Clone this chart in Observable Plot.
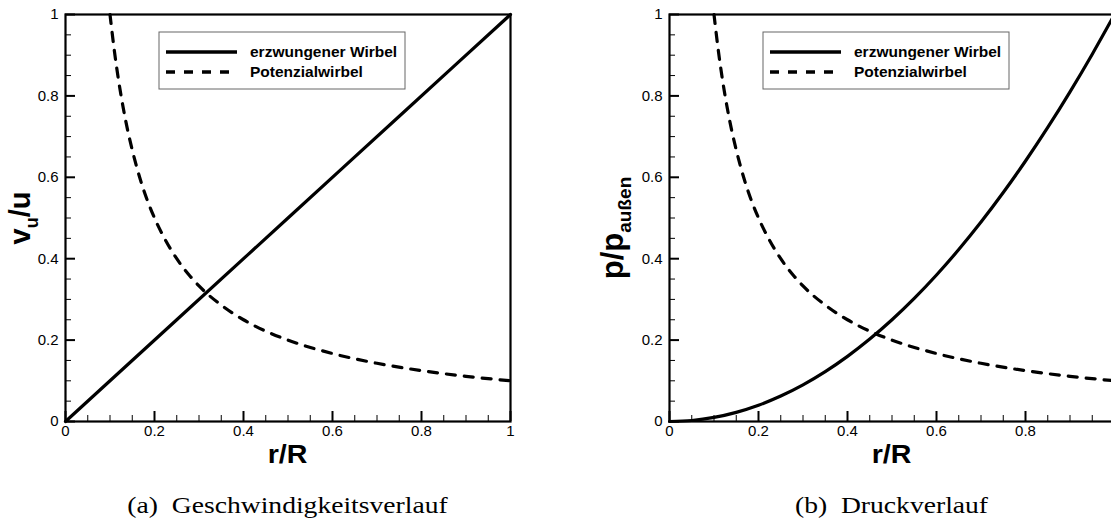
<!DOCTYPE html>
<html><head><meta charset="utf-8">
<script src="https://cdn.jsdelivr.net/npm/d3@7"></script>
<script src="https://cdn.jsdelivr.net/npm/@observablehq/plot@0.6"></script>
<style>
html,body{margin:0;padding:0;background:#fff;overflow:hidden;}
#root{position:relative;width:1111px;height:525px;overflow:hidden;background:#fff;}
.panel{position:absolute;top:0;}
</style></head><body><div id="root"></div>
<script>
// ---- data ----
const seriesNames = ["erzwungener Wirbel", "Potenzialwirbel"];
const xTicksA = [0, 0.2, 0.4, 0.6, 0.8, 1];
const xTicksB = [0, 0.2, 0.4, 0.6, 0.8];          // "1" lies outside the visible picture in (b)
const yTicks = [0, 0.2, 0.4, 0.6, 0.8, 1];
const majorTicks = [0, 0.2, 0.4, 0.6, 0.8, 1];
const minorTicks = [0.05, 0.1, 0.15, 0.25, 0.3, 0.35, 0.45, 0.5, 0.55, 0.65, 0.7, 0.75, 0.85, 0.9, 0.95];

// (a) Geschwindigkeitsverlauf
const forcedR = [0, 0.25, 0.5, 0.75, 1];
const forcedV = [0, 0.25, 0.5, 0.75, 1];
const potR = [0.1, 0.11, 0.12, 0.13, 0.14, 0.15, 0.17, 0.2, 0.22, 0.25, 0.28, 0.3, 0.35, 0.4, 0.45, 0.5, 0.6, 0.7, 0.8, 0.9, 1];
const potV = [1, 0.909, 0.833, 0.769, 0.714, 0.667, 0.588, 0.5, 0.455, 0.4, 0.357, 0.333, 0.286, 0.25, 0.222, 0.2, 0.167, 0.143, 0.125, 0.111, 0.1];

// (b) Druckverlauf
const forcedPR = [0, 0.05, 0.1, 0.15, 0.2, 0.25, 0.3, 0.35, 0.4, 0.45, 0.5, 0.55, 0.6, 0.65, 0.7, 0.75, 0.8, 0.85, 0.9, 0.95, 1];
const forcedP = [0, 0.0025, 0.01, 0.0225, 0.04, 0.0625, 0.09, 0.1225, 0.16, 0.2025, 0.25, 0.3025, 0.36, 0.4225, 0.49, 0.5625, 0.64, 0.7225, 0.81, 0.9025, 1];
const potPR = [0.1, 0.11, 0.12, 0.13, 0.14, 0.15, 0.17, 0.2, 0.22, 0.25, 0.28, 0.3, 0.35, 0.4, 0.45, 0.5, 0.6, 0.7, 0.8, 0.9, 1];
const potP = [1, 0.909, 0.833, 0.769, 0.714, 0.667, 0.588, 0.5, 0.455, 0.4, 0.357, 0.333, 0.286, 0.25, 0.222, 0.2, 0.167, 0.143, 0.125, 0.111, 0.1];

const captions = ["(a)  Geschwindigkeitsverlauf", "(b)  Druckverlauf"];

// ---- drawing ----
const SANS = "'Liberation Sans', Arial, Helvetica, sans-serif";
const SERIF = "'Liberation Serif', 'Times New Roman', serif";
const H = 525, MT = 14, MB = 104, PW = 445, PH = H - MT - MB;
const DASH = "9,9";

function rows(xs, ys, s) { return xs.map((x, i) => ({x, y: ys[i], s})); }

function txt(g, x, y, sx, attrs, str) {
  const t = g.append("text").attr("transform", `translate(${x},${y}) scale(${sx},1)`);
  for (const k in attrs) t.attr(k, attrs[k]);
  if (str != null) t.text(str);
  return t;
}

function panel({left, width, ml, solid, dashed, xTicks, yLabel, caption}) {
  const mr = width - ml - PW;
  const svg = Plot.plot({
    width, height: H, marginLeft: ml, marginRight: mr, marginTop: MT, marginBottom: MB,
    x: {domain: [0, 1]}, y: {domain: [0, 1]},
    style: {fontFamily: SANS, fontSize: "15px", color: "black", background: "transparent", overflow: "visible"},
    marks: [
      Plot.ruleX(minorTicks, {x: d => d, insetTop: PH - 6, stroke: "black", strokeWidth: 1}),
      Plot.ruleX(majorTicks, {x: d => d, insetTop: PH - 10, stroke: "black", strokeWidth: 2}),
      Plot.ruleY(minorTicks, {y: d => d, insetRight: PW - 6, stroke: "black", strokeWidth: 1}),
      Plot.ruleY(majorTicks, {y: d => d, insetRight: PW - 10, stroke: "black", strokeWidth: 2}),
      Plot.line(solid, {x: "x", y: "y", stroke: "black", strokeWidth: 3.2, curve: "monotone-x"}),
      Plot.line(dashed, {x: "x", y: "y", stroke: "black", strokeWidth: 3.2, strokeDasharray: DASH, curve: "monotone-x"}),
      Plot.frame({stroke: "black", strokeWidth: 2.2}),
      Plot.axisX(xTicks, {tickSize: 0, tickPadding: 4, tickFormat: d => String(d), label: null, fontSize: 15}),
      Plot.axisY(yTicks, {tickSize: 0, tickPadding: 7, tickFormat: d => String(d), label: null, fontSize: 15})
    ]
  });
  svg.classList.add("panel");
  svg.style.left = left + "px";
  const g = d3.select(svg).append("g").attr("text-anchor", "start");
  const cx = ml + PW / 2;
  // x label
  txt(g, cx, 463, 1.1, {"text-anchor": "middle", "font-family": SANS, "font-weight": "bold", "font-size": 26}, "r/R");
  // y label (rotated)
  const yl = g.append("text").attr("transform", `translate(${yLabel.x},${yLabel.cy}) rotate(-90)`)
    .attr("text-anchor", "middle").attr("font-family", SANS).attr("font-weight", "bold").attr("font-size", yLabel.fs);
  yl.append("tspan").text(yLabel.main);
  yl.append("tspan").attr("dy", yLabel.shift).attr("font-size", yLabel.subFs).text(yLabel.sub);
  if (yLabel.after) yl.append("tspan").attr("dy", -yLabel.shift).text(yLabel.after);
  // legend
  const lx = ml + 94, ly = 32;
  const lg = g.append("g");
  lg.append("rect").attr("x", lx).attr("y", ly).attr("width", 246).attr("height", 57)
    .attr("fill", "white").attr("stroke", "#666").attr("stroke-width", 1);
  lg.append("line").attr("x1", lx + 7).attr("x2", lx + 78).attr("y1", ly + 20).attr("y2", ly + 20)
    .attr("stroke", "black").attr("stroke-width", 3.5);
  lg.append("line").attr("x1", lx + 7).attr("x2", lx + 78).attr("y1", ly + 40).attr("y2", ly + 40)
    .attr("stroke", "black").attr("stroke-width", 3.5).attr("stroke-dasharray", DASH);
  seriesNames.forEach((n, i) => {
    txt(lg, lx + 91, ly + 25 + i * 20, 1.0, {"text-anchor": "start", "font-family": SANS, "font-weight": "bold", "font-size": 15.5}, n);
  });
  // caption
  txt(g, cx, 513, 1.15, {"text-anchor": "middle", "font-family": SERIF, "font-size": 24})
    .attr("xml:space", "preserve").style("white-space", "pre").text(caption);
  document.getElementById("root").appendChild(svg);
}

panel({
  left: 0, width: 560, ml: 65, xTicks: xTicksA,
  solid: rows(forcedR, forcedV, seriesNames[0]),
  dashed: rows(potR, potV, seriesNames[1]),
  yLabel: {x: 30, cy: 218, fs: 29, subFs: 18, main: "v", sub: "u", after: "/u", shift: 8},
  caption: captions[0]
});
panel({
  left: 555, width: 569, ml: 114, xTicks: xTicksB,
  solid: rows(forcedPR, forcedP, seriesNames[0]),
  dashed: rows(potPR, potP, seriesNames[1]),
  yLabel: {x: 68, cy: 228, fs: 31, subFs: 19, main: "p/p", sub: "außen", after: null, shift: 8},
  caption: captions[1]
});
</script></body></html>
